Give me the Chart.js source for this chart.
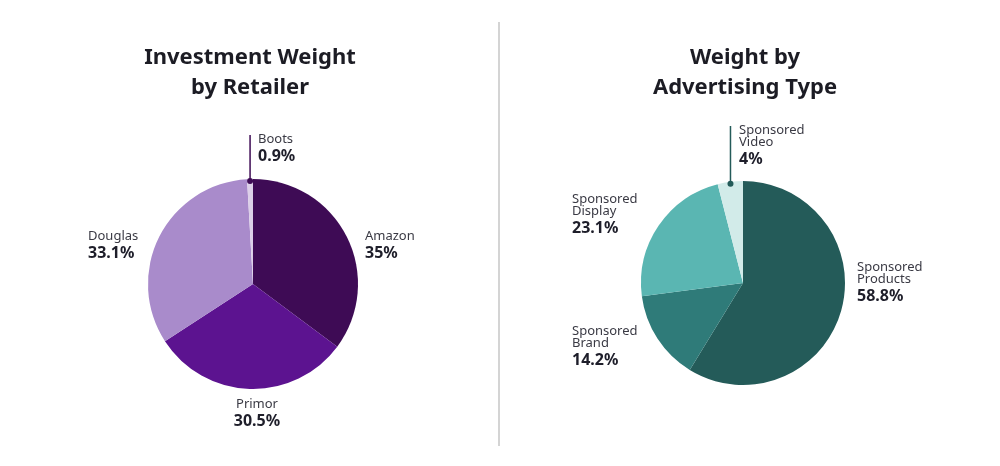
<!DOCTYPE html>
<html>
<head>
<meta charset="utf-8">
<script src="https://cdn.jsdelivr.net/npm/chart.js@4"></script>
<style>
body{margin:0;background:#fff;font-family:"Noto Sans",sans-serif;}
#wrap{position:relative;width:1000px;height:466px;}
.box{position:absolute;top:0;width:500px;height:466px;}
.title{position:absolute;top:40px;width:500px;text-align:center;font-weight:700;font-size:22px;line-height:30px;color:#1c1c24;}
#divider{position:absolute;left:498px;top:22px;width:2px;height:424px;background:#d4d4d4;}
</style>
</head>
<body>
<div id="wrap">
  <div class="box" style="left:0"><canvas id="retailer"></canvas></div>
  <div class="box" style="left:500px"><canvas id="adType"></canvas></div>
  <div class="title" style="left:0">Investment Weight<br>by Retailer</div>
  <div class="title" style="left:495px">Weight by<br>Advertising Type</div>
  <div id="divider"></div>
</div>
<script>
// data
const retailers = ['Amazon', 'Primor', 'Douglas', 'Boots'];
const retailerShare = [35, 30.5, 33.1, 0.9];
const retailerColors = ['#3e0b55', '#5c1390', '#a98bcb', '#dccfe8'];

const adTypes = [['Sponsored', 'Products'], ['Sponsored', 'Brand'], ['Sponsored', 'Display'], ['Sponsored', 'Video']];
const adShare = [58.8, 14.2, 23.1, 4];
const adColors = ['#245b59', '#2f7b79', '#5ab6b2', '#d2ebe9'];

// label placement relative to pie center: [dx, dy, align, leader]
const retailerLabelPos = [[112, -54, 'left'], [4, 114, 'center'], [-165, -54, 'left'], [5, -151, 'left', true]];
const adLabelPos = [[114, -22, 'left'], [-171, 42, 'left'], [-171, -90, 'left'], [-4, -159, 'left', true]];

const pieLabels = {
  id: 'pieLabels',
  afterDraw(chart, args, opts) {
    const ctx = chart.ctx;
    const arcs = chart.getDatasetMeta(0).data;
    const ds = chart.data.datasets[0];
    const cx = arcs[0].x, cy = arcs[0].y, r = arcs[0].outerRadius;
    ctx.save();
    arcs.forEach((arc, i) => {
      const [dx, dy, align, leader] = opts.pos[i];
      let x = cx + dx, y = cy + dy;
      if (leader) {
        const mid = (arc.startAngle + arc.endAngle) / 2;
        const lx = cx + Math.cos(mid) * (r - 2);
        const ly = cy + Math.sin(mid) * (r - 2);
        ctx.strokeStyle = opts.leaderColor;
        ctx.fillStyle = opts.leaderColor;
        ctx.lineWidth = 1.5;
        ctx.beginPath(); ctx.moveTo(lx, ly); ctx.lineTo(lx, y + 2); ctx.stroke();
        ctx.beginPath(); ctx.arc(lx, ly, 3, 0, Math.PI * 2); ctx.fill();
      }
      let names = chart.data.labels[i];
      if (!Array.isArray(names)) names = [names];
      ctx.textAlign = align;
      ctx.textBaseline = 'top';
      ctx.fillStyle = '#3a3a44';
      ctx.font = '13px "Noto Sans"';
      names.forEach(n => { ctx.fillText(n, x, y); y += 12; });
      y += 3;
      ctx.fillStyle = '#1e1e2a';
      ctx.font = 'bold 16px "Noto Sans"';
      ctx.fillText(ds.data[i] + '%', x, y);
    });
    ctx.restore();
  }
};

function makePie(id, labels, values, colors, pad, pos, leaderColor) {
  return new Chart(document.getElementById(id), {
    type: 'pie',
    data: { labels: labels, datasets: [{ data: values, backgroundColor: colors, borderWidth: 0 }] },
    options: {
      responsive: true,
      maintainAspectRatio: false,
      animation: false,
      layout: { padding: pad },
      plugins: { legend: { display: false }, tooltip: { enabled: false }, pieLabels: { pos: pos, leaderColor: leaderColor } }
    },
    plugins: [pieLabels]
  });
}

makePie('retailer', retailers, retailerShare, retailerColors,
  { left: 148, right: 142, top: 179, bottom: 77 }, retailerLabelPos, '#3e0b55');
makePie('adType', adTypes, adShare, adColors,
  { left: 141, right: 155, top: 181, bottom: 81 }, adLabelPos, '#245b59');
</script>
</body>
</html>
